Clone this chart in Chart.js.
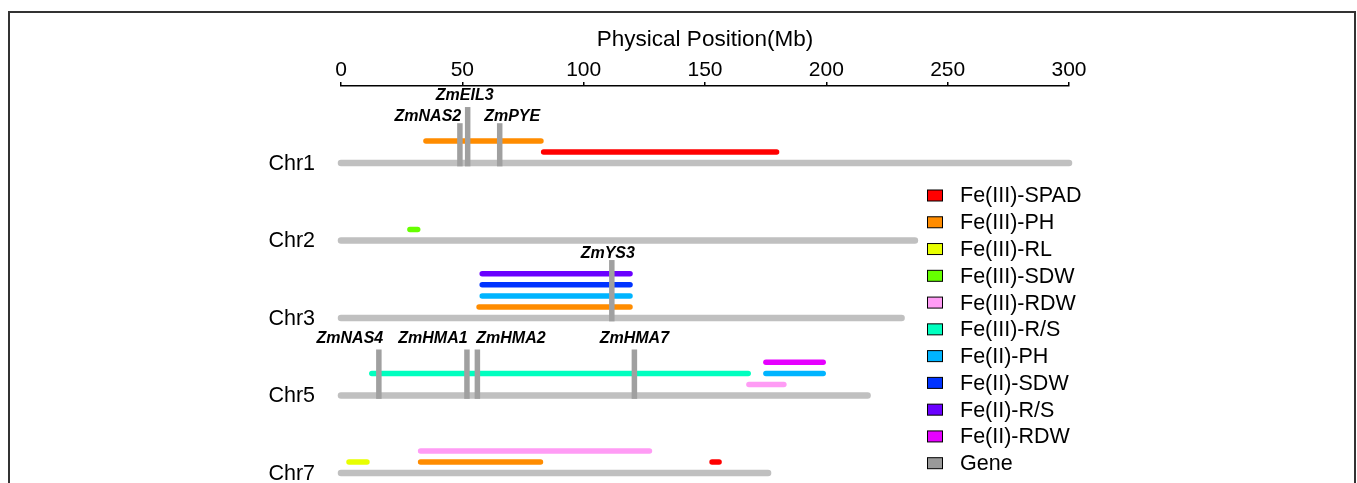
<!DOCTYPE html>
<html>
<head>
<meta charset="utf-8">
<script src="https://cdn.jsdelivr.net/npm/chart.js@4/dist/chart.umd.min.js"></script>
<style>
html,body{margin:0;padding:0;background:#fff;}
canvas{display:block;}
</style>
</head>
<body>
<canvas id="c" width="1357" height="483"></canvas>
<script>
// ---------------- DATA ----------------
const xTicks = [0, 50, 100, 150, 200, 250, 300];
const chromosomes = ['Chr1', 'Chr2', 'Chr3', 'Chr5', 'Chr7'];
const chromLengths = [300, 236.5, 231, 217, 176];

const geneNames = ['ZmNAS2', 'ZmEIL3', 'ZmPYE', 'ZmYS3', 'ZmNAS4', 'ZmHMA1', 'ZmHMA2', 'ZmHMA7'];
const geneChrom = ['Chr1', 'Chr1', 'Chr1', 'Chr3', 'Chr5', 'Chr5', 'Chr5', 'Chr5'];
const genePositions = [49.0, 52.2, 65.4, 111.6, 15.6, 51.9, 56.2, 120.9];

const traits = ['Fe(III)-SPAD', 'Fe(III)-PH', 'Fe(III)-RL', 'Fe(III)-SDW', 'Fe(III)-RDW',
                'Fe(III)-R/S', 'Fe(II)-PH', 'Fe(II)-SDW', 'Fe(II)-R/S', 'Fe(II)-RDW'];
const qtlTrait = ['Fe(III)-PH', 'Fe(III)-SPAD', 'Fe(III)-SDW',
                  'Fe(II)-R/S', 'Fe(II)-SDW', 'Fe(II)-PH', 'Fe(III)-PH',
                  'Fe(III)-R/S', 'Fe(II)-RDW', 'Fe(II)-PH', 'Fe(III)-RDW',
                  'Fe(III)-RDW', 'Fe(III)-PH', 'Fe(III)-RL', 'Fe(III)-SPAD'];
const qtlChrom = ['Chr1', 'Chr1', 'Chr2',
                  'Chr3', 'Chr3', 'Chr3', 'Chr3',
                  'Chr5', 'Chr5', 'Chr5', 'Chr5',
                  'Chr7', 'Chr7', 'Chr7', 'Chr7'];
const qtlStart = [35.0, 83.5, 28.4,
                  58.2, 58.2, 58.2, 56.9,
                  12.7, 175.1, 175.1, 168.1,
                  32.8, 32.8, 3.3, 152.9];
const qtlEnd   = [82.4, 179.5, 31.6,
                  119.1, 119.1, 119.1, 119.1,
                  167.8, 198.7, 198.7, 182.5,
                  127.1, 82.2, 10.7, 155.8];

// ---------------- LAYOUT / STYLE ----------------
const qtlLane = [2, 1, 1, 4, 3, 2, 1, 2, 3, 2, 1, 2, 1, 1, 1];
const chromSpacing = 7.0;           // lanes between chromosomes
// per gene: marker height (lanes), label dx (px), label dy above marker top (px)
const geneMarkerHeight = [3.6, 5.06, 3.6, 5.24, 4.16, 4.16, 4.16, 4.16];
const geneLabelDx = [-32, -3, 12.5, -4, -29, -34, 33.6, 0];
const geneLabelDy = [6.5, 11.5, 6.5, 6.5, 10.5, 10.5, 10.5, 10.5];

const traitColors = {
  'Fe(III)-SPAD': '#ff0000',
  'Fe(III)-PH': '#ff8c00',
  'Fe(III)-RL': '#e8ff00',
  'Fe(III)-SDW': '#66ff00',
  'Fe(III)-RDW': '#ff9cf5',
  'Fe(III)-R/S': '#00ffbf',
  'Fe(II)-PH': '#00b4ff',
  'Fe(II)-SDW': '#0033ff',
  'Fe(II)-R/S': '#6a00ff',
  'Fe(II)-RDW': '#e600ff'
};
const geneColor = '#a0a0a0';
const chromColor = '#c0c0c0';
const FONT = "'Liberation Sans', Arial, sans-serif";

function baseY(chr) { return -chromSpacing * chromosomes.indexOf(chr); }

const datasets = [];
chromosomes.forEach((c, i) => {
  datasets.push({
    label: c,
    data: [{ x: 0, y: baseY(c) }, { x: chromLengths[i], y: baseY(c) }],
    borderColor: chromColor, borderWidth: 6.5, borderCapStyle: 'round',
    showLine: true, pointRadius: 0, order: 3, clip: false
  });
});
qtlTrait.forEach((t, i) => {
  const y = baseY(qtlChrom[i]) + qtlLane[i];
  datasets.push({
    label: t,
    data: [{ x: qtlStart[i], y: y }, { x: qtlEnd[i], y: y }],
    borderColor: traitColors[t], borderWidth: 5.5, borderCapStyle: 'round',
    showLine: true, pointRadius: 0, order: 2, clip: false
  });
});
geneNames.forEach((g, i) => {
  const b = baseY(geneChrom[i]);
  datasets.push({
    label: g,
    data: [{ x: genePositions[i], y: b - 0.3 }, { x: genePositions[i], y: b + geneMarkerHeight[i] }],
    borderColor: geneColor, borderWidth: 5.5, borderCapStyle: 'butt',
    showLine: true, pointRadius: 0, order: 1, clip: false
  });
});

const framePlugin = {
  id: 'frame',
  beforeDraw(chart) {
    const c = chart.ctx;
    c.save();
    c.fillStyle = '#fff';
    c.fillRect(0, 0, chart.width, chart.height);
    c.restore();
  },
  afterDraw(chart) {
    const c = chart.ctx;
    c.save();
    c.strokeStyle = '#333';
    c.lineWidth = 2;
    c.strokeRect(9, 12, 1346, 520);
    c.restore();
  }
};

const labelPlugin = {
  id: 'labels',
  afterDatasetsDraw(chart) {
    const c = chart.ctx;
    const xs = chart.scales.x, ys = chart.scales.y;
    c.save();
    // chromosome labels
    c.fillStyle = '#000';
    c.font = '21.5px ' + FONT;
    c.textAlign = 'right';
    c.textBaseline = 'middle';
    chromosomes.forEach((ch) => {
      c.fillText(ch, xs.getPixelForValue(0) - 26, ys.getPixelForValue(baseY(ch)) + 1);
    });
    // gene labels
    c.font = 'italic bold 16px ' + FONT;
    c.textAlign = 'center';
    geneNames.forEach((g, i) => {
      const px = xs.getPixelForValue(genePositions[i]) + geneLabelDx[i];
      const top = ys.getPixelForValue(baseY(geneChrom[i]) + geneMarkerHeight[i]);
      c.fillText(g, px, top - geneLabelDy[i]);
    });
    // legend
    const items = traits.map(t => ({ text: t, color: traitColors[t] }));
    items.push({ text: 'Gene', color: '#9a9a9a' });
    c.font = '21.5px ' + FONT;
    c.textAlign = 'left';
    items.forEach((it, k) => {
      const cy = 195.5 + k * 26.77;
      c.fillStyle = it.color;
      c.fillRect(927, cy - 5.5, 16, 11);
      c.strokeStyle = '#000';
      c.lineWidth = 1;
      c.strokeRect(927.5, cy - 5.5, 15, 11);
      c.fillStyle = '#000';
      c.fillText(it.text, 960, cy + 1);
    });
    c.restore();
  }
};

new Chart(document.getElementById('c').getContext('2d'), {
  type: 'scatter',
  data: { datasets },
  options: {
    responsive: false,
    animation: false,
    events: [],
    layout: { padding: { left: 341, right: 288, top: 18, bottom: 0 } },
    plugins: { legend: { display: false }, tooltip: { enabled: false } },
    scales: {
      x: {
        type: 'linear', position: 'top', min: 0, max: 300,
        afterBuildTicks: (s) => { s.ticks = xTicks.map(v => ({ value: v })); },
        afterFit: (s) => { s.height = 86 - 18; },
        ticks: { font: { family: FONT, size: 21, lineHeight: 1.0 }, color: '#000', padding: 1, maxRotation: 0 },
        grid: { drawOnChartArea: false, drawTicks: true, tickLength: 4, color: '#000', lineWidth: 1.5 },
        border: { display: true, color: '#000', width: 1.5 },
        title: { display: true, text: 'Physical Position(Mb)', color: '#000',
                 font: { family: FONT, size: 22.5 }, padding: { top: 8, bottom: 0 } }
      },
      y: { type: 'linear', display: false, min: -28.9, max: 6.96 }
    }
  },
  plugins: [framePlugin, labelPlugin]
});
</script>
</body>
</html>
